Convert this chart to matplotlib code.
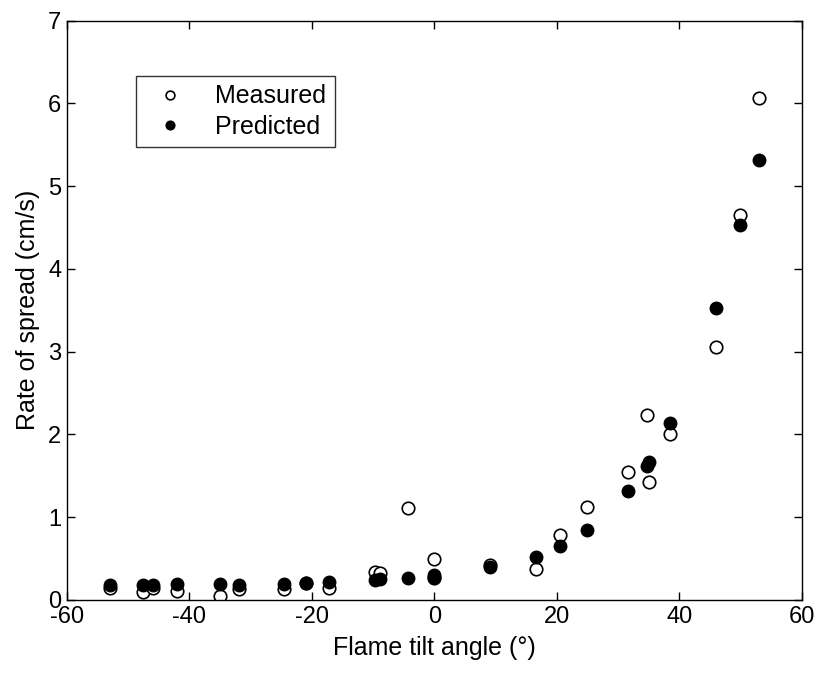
import matplotlib
matplotlib.use("Agg")
import matplotlib.pyplot as plt

# flame tilt angle (deg), shared by both series
angle = [-52.9, -47.6, -46.0, -42.0, -35.0, -31.9, -24.6, -20.9, -17.2,
         -9.7, -8.8, -4.35, 0.0, 0.0, 9.1, 16.6, 20.6, 25.0, 31.7,
         34.8, 35.1, 38.5, 46.0, 50.0, 53.0]

# rate of spread (cm/s)
measured = [0.14, 0.10, 0.14, 0.11, 0.05, 0.13, 0.13, 0.20, 0.15,
            0.34, 0.33, 1.11, 0.50, 0.26, 0.42, 0.37, 0.78, 1.12, 1.55,
            2.23, 1.42, 2.01, 3.06, 4.65, 6.06]
predicted = [0.18, 0.18, 0.18, 0.19, 0.19, 0.18, 0.19, 0.21, 0.22,
             0.24, 0.25, 0.27, 0.30, 0.28, 0.40, 0.52, 0.65, 0.85, 1.32,
             1.62, 1.67, 2.14, 3.53, 4.53, 5.32]

plt.rcParams["font.family"] = ["Liberation Sans", "DejaVu Sans"]
plt.rcParams["font.size"] = 17
plt.rcParams["axes.unicode_minus"] = False

fig = plt.figure(figsize=(8.19, 6.73), dpi=100)
ax = fig.add_axes([0.0818, 0.1085, 0.897, 0.861])

ax.plot(angle, measured, "o", ms=9, mfc="white", mec="black", mew=1.2,
        label="Measured")
ax.plot(angle, predicted, "o", ms=9, mfc="black", mec="black",
        label="Predicted")

ax.set_xlim(-60, 60)
ax.set_ylim(0, 7)
ax.set_xticks(range(-60, 61, 20))
ax.set_yticks(range(0, 8))
ax.tick_params(direction="in", top=True, right=True, length=6, width=1,
               labelsize=17)
ax.tick_params(axis="x", pad=4)
ax.tick_params(axis="y", pad=4)
for s in ax.spines.values():
    s.set_linewidth(1)

ax.set_xlabel("Flame tilt angle (°)", fontsize=18, labelpad=6)
ax.set_ylabel("Rate of spread (cm/s)", fontsize=18, labelpad=6)

leg = ax.legend(loc="upper left", bbox_to_anchor=(0.094, 0.905),
                fontsize=18, markerscale=0.7, frameon=True, fancybox=False,
                edgecolor="black", borderpad=0.35, handletextpad=0.8,
                labelspacing=0.25, borderaxespad=0)
leg.get_frame().set_linewidth(1)

fig.savefig("out.png", dpi=100)
